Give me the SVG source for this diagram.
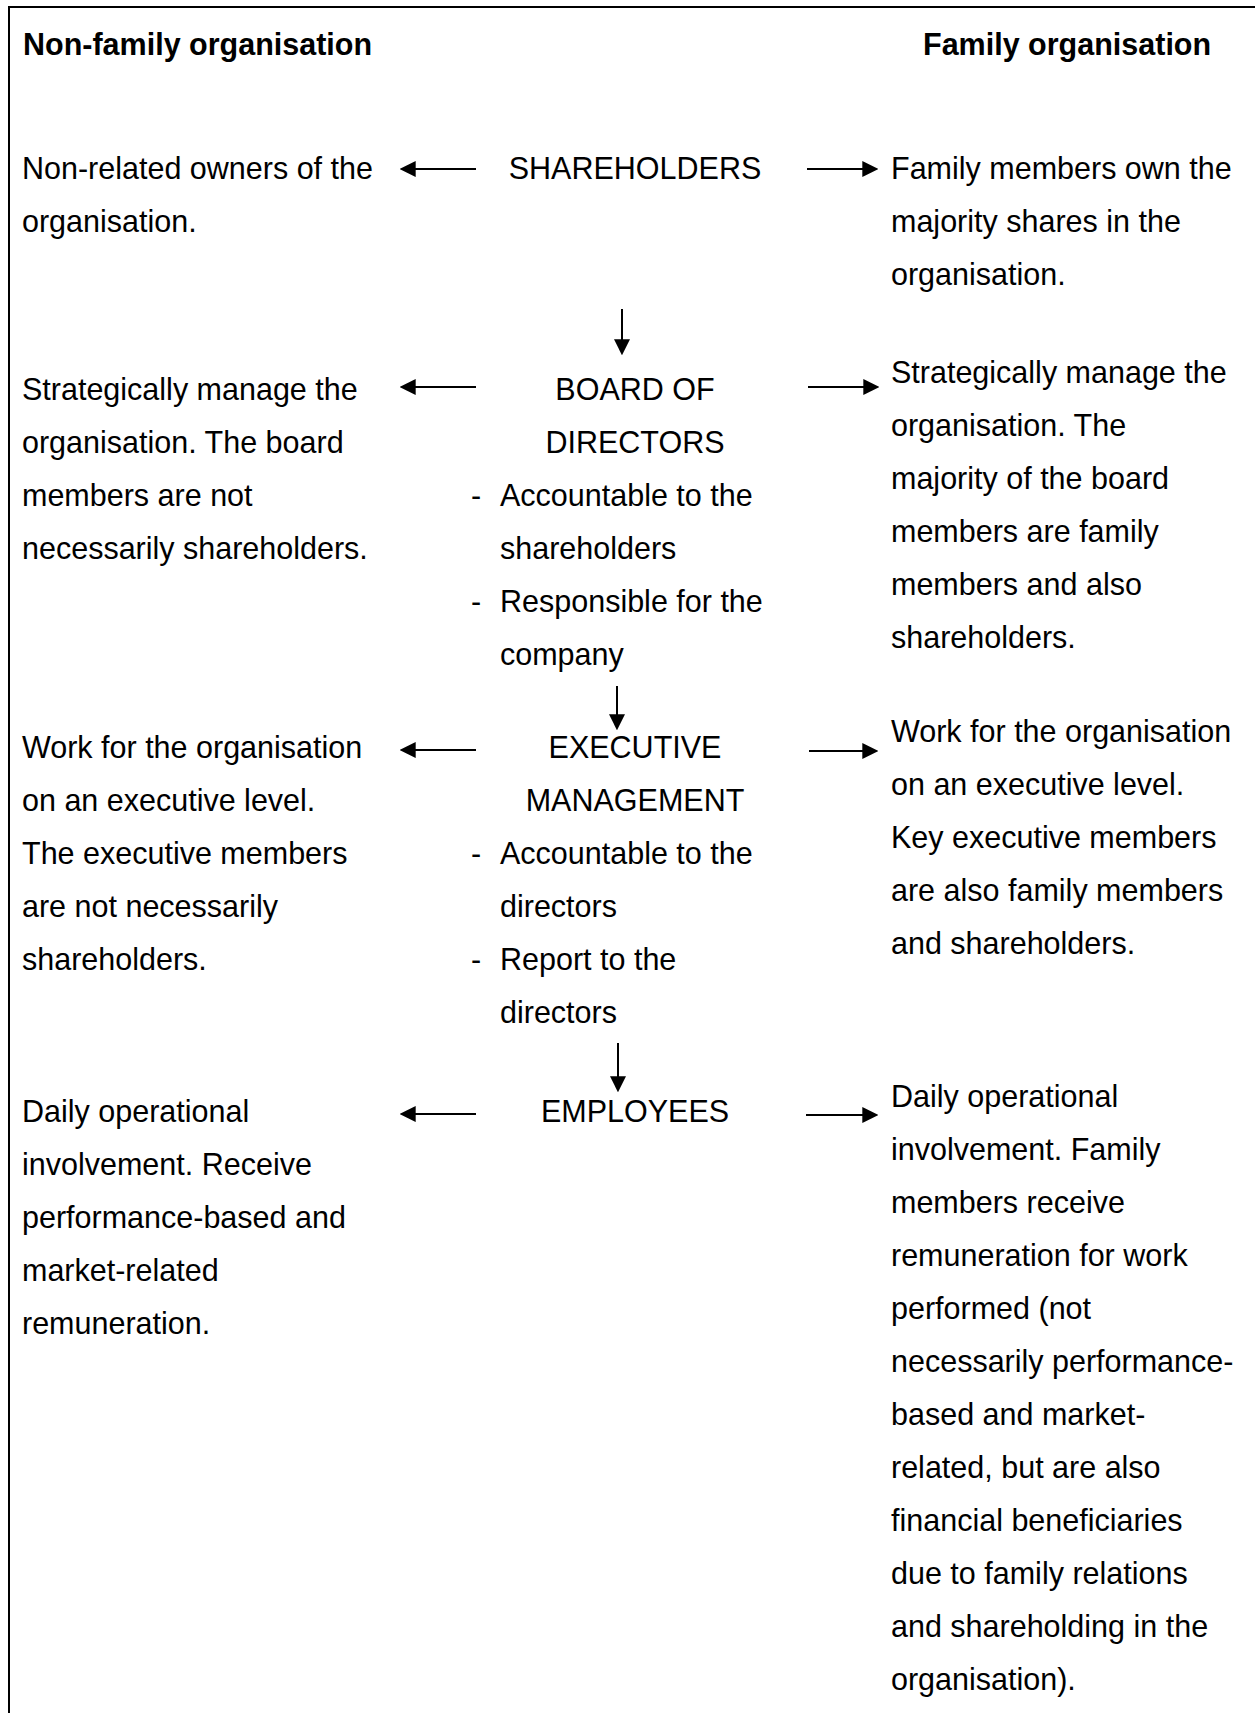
<svg xmlns="http://www.w3.org/2000/svg" width="1255" height="1713" viewBox="0 0 1255 1713">
<style>
text{font-family:"Liberation Sans",Arial,sans-serif;font-size:30.5px;fill:#000}
.h{font-weight:bold}
.c{text-anchor:middle}
.conn line{stroke:#000;stroke-width:2;fill:none}
.frame{stroke:#000;stroke-width:2;fill:none}
</style>
<defs>
<marker id="ah" markerUnits="userSpaceOnUse" markerWidth="16" markerHeight="16" viewBox="0 0 15 15" refX="10" refY="7.5" orient="auto">
<path d="M0,0 L15,7.5 L0,15 z" fill="#000"/>
</marker>
</defs>
<rect width="1255" height="1713" fill="#fff"/>
<path class="frame" d="M9,1713 V7 H1255"/>

<g id="header-left"><text class="h" x="23" y="54.5">Non-family organisation</text></g>
<g id="header-right"><text class="h" x="923" y="54.5">Family organisation</text></g>

<g id="shareholders"><text class="c" x="635" y="179">SHAREHOLDERS</text></g>
<g id="shareholders-left">
<text x="22" y="179">Non-related owners of the</text>
<text x="22" y="232">organisation.</text>
</g>
<g id="shareholders-right">
<text x="891" y="179">Family members own the</text>
<text x="891" y="232">majority shares in the</text>
<text x="891" y="285">organisation.</text>
</g>

<g id="board">
<text class="c" x="635" y="400">BOARD OF</text>
<text class="c" x="635" y="453">DIRECTORS</text>
<text x="471" y="506">-</text><text x="500" y="506">Accountable to the</text>
<text x="500" y="559">shareholders</text>
<text x="471" y="612">-</text><text x="500" y="612">Responsible for the</text>
<text x="500" y="665">company</text>
</g>
<g id="board-left">
<text x="22" y="400">Strategically manage the</text>
<text x="22" y="453">organisation. The board</text>
<text x="22" y="506">members are not</text>
<text x="22" y="559">necessarily shareholders.</text>
</g>
<g id="board-right">
<text x="891" y="383">Strategically manage the</text>
<text x="891" y="436">organisation. The</text>
<text x="891" y="489">majority of the board</text>
<text x="891" y="542">members are family</text>
<text x="891" y="595">members and also</text>
<text x="891" y="648">shareholders.</text>
</g>

<g id="executive">
<text class="c" x="635" y="758">EXECUTIVE</text>
<text class="c" x="635" y="811">MANAGEMENT</text>
<text x="471" y="864">-</text><text x="500" y="864">Accountable to the</text>
<text x="500" y="917">directors</text>
<text x="471" y="970">-</text><text x="500" y="970">Report to the</text>
<text x="500" y="1023">directors</text>
</g>
<g id="executive-left">
<text x="22" y="758">Work for the organisation</text>
<text x="22" y="811">on an executive level.</text>
<text x="22" y="864">The executive members</text>
<text x="22" y="917">are not necessarily</text>
<text x="22" y="970">shareholders.</text>
</g>
<g id="executive-right">
<text x="891" y="742">Work for the organisation</text>
<text x="891" y="795">on an executive level.</text>
<text x="891" y="848">Key executive members</text>
<text x="891" y="901">are also family members</text>
<text x="891" y="954">and shareholders.</text>
</g>

<g id="employees"><text class="c" x="635" y="1122">EMPLOYEES</text></g>
<g id="employees-left">
<text x="22" y="1122">Daily operational</text>
<text x="22" y="1175">involvement. Receive</text>
<text x="22" y="1228">performance-based and</text>
<text x="22" y="1281">market-related</text>
<text x="22" y="1334">remuneration.</text>
</g>
<g id="employees-right">
<text x="891" y="1107">Daily operational</text>
<text x="891" y="1160">involvement. Family</text>
<text x="891" y="1213">members receive</text>
<text x="891" y="1266">remuneration for work</text>
<text x="891" y="1319">performed (not</text>
<text x="891" y="1372">necessarily performance-</text>
<text x="891" y="1425">based and market-</text>
<text x="891" y="1478">related, but are also</text>
<text x="891" y="1531">financial beneficiaries</text>
<text x="891" y="1584">due to family relations</text>
<text x="891" y="1637">and shareholding in the</text>
<text x="891" y="1690">organisation).</text>
</g>

<g id="connectors" class="conn">
<line x1="476" y1="169" x2="405" y2="169" marker-end="url(#ah)"/>
<line x1="807" y1="169" x2="873" y2="169" marker-end="url(#ah)"/>
<line x1="622" y1="309" x2="622" y2="350" marker-end="url(#ah)"/>
<line x1="476" y1="387" x2="405" y2="387" marker-end="url(#ah)"/>
<line x1="808" y1="387" x2="874" y2="387" marker-end="url(#ah)"/>
<line x1="617" y1="686" x2="617" y2="725" marker-end="url(#ah)"/>
<line x1="476" y1="750" x2="405" y2="750" marker-end="url(#ah)"/>
<line x1="809" y1="751" x2="873" y2="751" marker-end="url(#ah)"/>
<line x1="618" y1="1043" x2="618" y2="1087" marker-end="url(#ah)"/>
<line x1="476" y1="1114" x2="405" y2="1114" marker-end="url(#ah)"/>
<line x1="806" y1="1115" x2="873" y2="1115" marker-end="url(#ah)"/>
</g>
</svg>
